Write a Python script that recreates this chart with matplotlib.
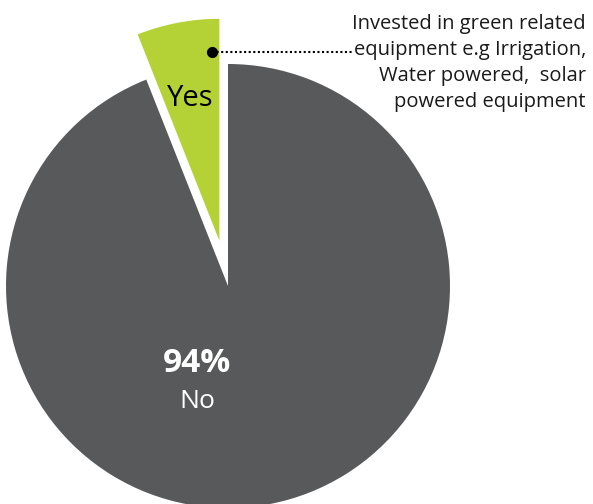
import matplotlib.pyplot as plt

labels = ["Yes", "No"]
shares = [6, 94]
colors = ["#b4d236", "#58595b"]
note = "Invested in green related\nequipment e.g Irrigation,\nWater powered,  solar\npowered equipment"

plt.rcParams['font.family'] = ['Open Sans', 'DejaVu Sans']

fig = plt.figure(figsize=(5.93, 5.04), dpi=100)
ax = fig.add_axes([0, 0, 1, 1])

cx, cy, r = 228, 504 - 286, 222
# explode is in data units here, so give it in pixels
ax.pie(shares, colors=colors, startangle=90, counterclock=True,
       explode=[46, 0], center=(cx, cy), radius=r, frame=True,
       wedgeprops=dict(linewidth=0))
ax.set_xlim(0, 593)
ax.set_ylim(0, 504)
ax.set_aspect('equal')
ax.axis('off')

ax.text(190, 504 - 98, labels[0], color="black", fontsize=21,
        ha='center', va='center')
ax.text(197, 504 - 363, "%d%%" % shares[1], color="white", fontsize=24,
        fontweight='bold', ha='center', va='center')
ax.text(197, 504 - 401, labels[1], color="white", fontsize=19,
        ha='center', va='center')

# leader line to the note
ax.plot([212], [504 - 52], 'o', color='black', markersize=7)
ax.plot([212, 352], [504 - 52, 504 - 52], color='black', linestyle=(0, (1, 1.2)),
        linewidth=1.5)
ax.text(586, 504 - 63, note, color="#1a1a1a", fontsize=14.5, ha='right',
        va='center', linespacing=1.38)

plt.savefig("out.png", dpi=100)
